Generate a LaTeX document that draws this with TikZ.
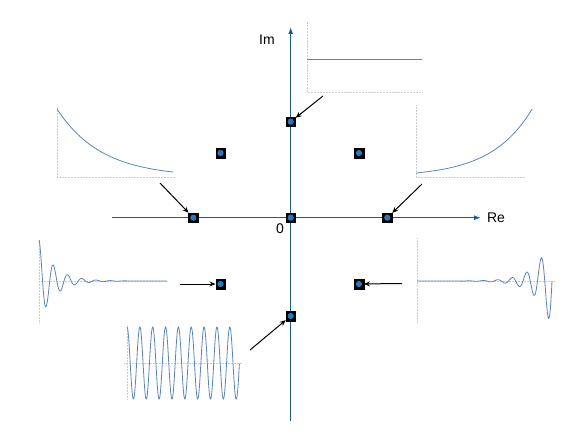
\documentclass[tikz,border=0pt]{standalone}
\usepackage{fontspec}
\setmainfont{Liberation Sans}
\usetikzlibrary{arrows.meta}
\definecolor{axisblue}{RGB}{32,88,156}
\definecolor{dotblue}{RGB}{40,120,190}
\definecolor{curveblue}{RGB}{90,130,195}
\definecolor{gridgray}{RGB}{205,205,205}
\begin{document}
\begin{tikzpicture}[x=1pt,y=-1pt,
  axisline/.style={axisblue,line width=1.2pt,-{Latex[length=7pt,width=5pt]}},
  pole/.style={draw=black,fill=black,minimum size=9.5pt,inner sep=0pt,
    path picture={\fill[dotblue] (path picture bounding box.center) circle (3.1pt);}},
  pointer/.style={black,line width=1pt,-{Stealth[length=6pt,width=5pt]}},
  chartaxis/.style={gridgray,line width=0.5pt,densely dotted},
  curve/.style={curveblue,line width=0.8pt},
  lbl/.style={font=\fontsize{14}{16}\selectfont,inner sep=0pt}]
\useasboundingbox (0,0) rectangle (581,436);
% axes
\coordinate (xl) at (112,217.7);
\coordinate (xr) at (481,217.7);
\coordinate (yb) at (290.7,421);
\coordinate (yt) at (290.7,27);
\draw[axisline] (xl) -- (xr);
\draw[axisline] (yb) -- (yt);
\node[lbl] (im) at (267,40) {Im};
\node[lbl] (re) at (496,218) {Re};
\node[lbl] (zero) at (280,229) {0};
% poles
\node[pole] (p1) at (290.7,121.7) {};
\node[pole] (p2) at (220.5,153) {};
\node[pole] (p3) at (359,153) {};
\node[pole] (p4) at (193.3,217.7) {};
\node[pole] (p5) at (290.7,217.7) {};
\node[pole] (p6) at (387.3,217.7) {};
\node[pole] (p7) at (220.5,284) {};
\node[pole] (p8) at (359,284) {};
\node[pole] (p9) at (290.7,316) {};
% pointers
\coordinate (a1) at (323,96);
\coordinate (a4) at (160,183);
\coordinate (a6) at (422,184);
\coordinate (a7) at (180,284);
\coordinate (a8) at (402,283.5);
\coordinate (a9) at (250,350);
\draw[pointer] (a1) -- (p1);
\draw[pointer] (a4) -- (p4);
\draw[pointer] (a6) -- (p6);
\draw[pointer] (a7) -- (p7);
\draw[pointer] (a8) -- (p8);
\draw[pointer] (a9) -- (p9);
% chart 1: constant
\draw[chartaxis] (307,22) -- (307,92) -- (422,92);
\draw[curve] (307,59) -- (422,59);
% chart 2: decaying exponential
\draw[chartaxis] (57,105) -- (57,177) -- (175,177);
\draw[curve] plot[domain=0:116,samples=80] ({57+\x},{177-68*exp(-0.0225*\x)});
% chart 3: growing exponential
\draw[chartaxis] (416,105) -- (416,177) -- (525,177);
\draw[curve] plot[domain=0:116,samples=80] ({416+\x},{177-4*exp(0.0244*\x)});
% chart 4: damped oscillation
\draw[chartaxis] (39,240) -- (39,323);
\draw[chartaxis] (39,281) -- (168,281);
\draw[curve] plot[domain=0:128,samples=400] ({39+\x},{281-41*exp(-0.066*\x)*cos(25.175*\x)});
% chart 5: growing oscillation
\draw[chartaxis] (417,238) -- (417,323);
\draw[chartaxis] (417,281) -- (555,281);
\draw[curve] plot[domain=135:0,samples=400] ({552-\x},{281+47*exp(-0.066*\x)*sin(24.83*\x)});
% chart 6: sinusoid
\draw[chartaxis] (127,325) -- (127,400);
\draw[chartaxis] (124,363) -- (242,363);
\draw[curve] plot[domain=0:112.4,samples=500] ({127+\x},{363-36*cos(28.016*\x)});
\end{tikzpicture}
\end{document}
